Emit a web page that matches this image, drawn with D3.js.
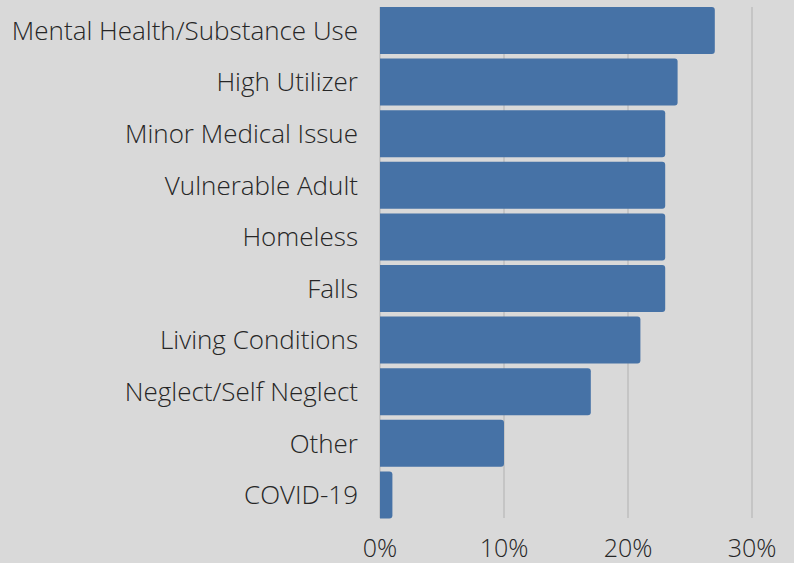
<!DOCTYPE html>
<html><head><meta charset="utf-8">
<script src="https://cdn.jsdelivr.net/npm/d3@7"></script>
<style>
html,body{margin:0;padding:0;background:#d9d9d9;}
svg{display:block;}
text{font-family:"Open Sans",sans-serif;font-weight:300;fill:#262626;}
</style></head><body>
<svg id="c" width="794" height="563"></svg>
<script>
const categories = ["Mental Health/Substance Use","High Utilizer","Minor Medical Issue","Vulnerable Adult","Homeless","Falls","Living Conditions","Neglect/Self Neglect","Other","COVID-19"];
const values = [27,24,23,23,23,23,21,17,10,1];
const ticks = [0,10,20,30];
const tickLabels = ["0%","10%","20%","30%"];

const svg = d3.select("#c");
svg.append("rect").attr("width",794).attr("height",563).attr("fill","#d9d9d9");
const x = d3.scaleLinear().domain([0,30]).range([380,752]);
const y = d3.scaleBand().domain(categories).range([4.7,520.7]).paddingInner(0.089).paddingOuter(0.0445);
const gTop = 7, gBot = 518;

svg.append("g").selectAll("line").data(ticks).join("line")
  .attr("x1",d=>x(d)).attr("x2",d=>x(d)).attr("y1",gTop).attr("y2",gBot)
  .attr("stroke","#b8b8b8").attr("stroke-width",1.2);

const r = 3;
svg.append("g").selectAll("path").data(categories).join("path")
  .attr("fill","#4672a6")
  .attr("d",(c,i)=>{
    const x0=x(0), x1=x(values[i]), y0=y(c), h=y.bandwidth();
    const rr=Math.min(r,(x1-x0)/2);
    return `M${x0},${y0}H${x1-rr}Q${x1},${y0} ${x1},${y0+rr}V${y0+h-rr}Q${x1},${y0+h} ${x1-rr},${y0+h}H${x0}Z`;
  });

svg.append("g").selectAll("text").data(categories).join("text")
  .attr("x",358).attr("y",c=>y(c)+y.bandwidth()/2).attr("dy","0.36em")
  .attr("text-anchor","end").attr("font-size",26).text(d=>d);

svg.append("g").selectAll("text").data(ticks).join("text")
  .attr("x",d=>x(d)).attr("y",557).attr("text-anchor","middle")
  .attr("font-size",25).text((d,i)=>tickLabels[i]);
</script>
</body></html>
